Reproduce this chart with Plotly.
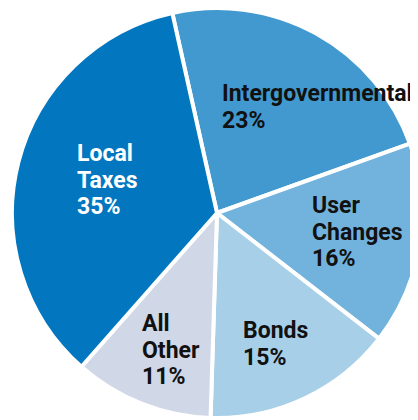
import plotly.graph_objects as go

labels = ["Intergovernmental", "User Changes", "Bonds", "All Other", "Local Taxes"]
label_lines = [["Intergovernmental"], ["User", "Changes"], ["Bonds"], ["All", "Other"], ["Local", "Taxes"]]
values = [23, 16, 15, 11, 35]
colors = ["#4299CF", "#72B3DD", "#A7CFE8", "#D0D7E7", "#0277BF"]
text_colors = ["#111111", "#111111", "#111111", "#111111", "#FFFFFF"]

W, H = 418, 420

fig = go.Figure(go.Pie(
    labels=labels,
    values=values,
    sort=False,
    direction="clockwise",
    rotation=-12.6,
    marker=dict(colors=colors, line=dict(color="white", width=4)),
    textinfo="none",
    hoverinfo="skip",
    showlegend=False,
    domain=dict(x=[4 / W, 414 / W], y=[1 - 410 / H, 1.0]),
))

# label anchor (left edge, top of first line) in figure pixels
anchors_px = [(212, 70), (302, 182), (233, 307), (132, 300), (67, 130)]
line_step = 26.7
font_family = "Roboto, Arial, sans-serif"
for i, lab in enumerate(labels):
    x_px, y_px = anchors_px[i]
    lines = label_lines[i] + [f"{values[i]}%"]
    for j, ln in enumerate(lines):
        fig.add_annotation(
            x=x_px / W, y=1 - (y_px + j * line_step) / H, xref="paper", yref="paper",
            xanchor="left", yanchor="top", align="left",
            text=f"<b>{ln}</b>", showarrow=False,
            font=dict(family=font_family, size=23, color=text_colors[i]),
        )

fig.update_layout(
    width=W, height=H,
    margin=dict(l=0, r=0, t=0, b=0),
    paper_bgcolor="white", plot_bgcolor="white",
)

fig.write_html("out.html", config={"displayModeBar": False})
